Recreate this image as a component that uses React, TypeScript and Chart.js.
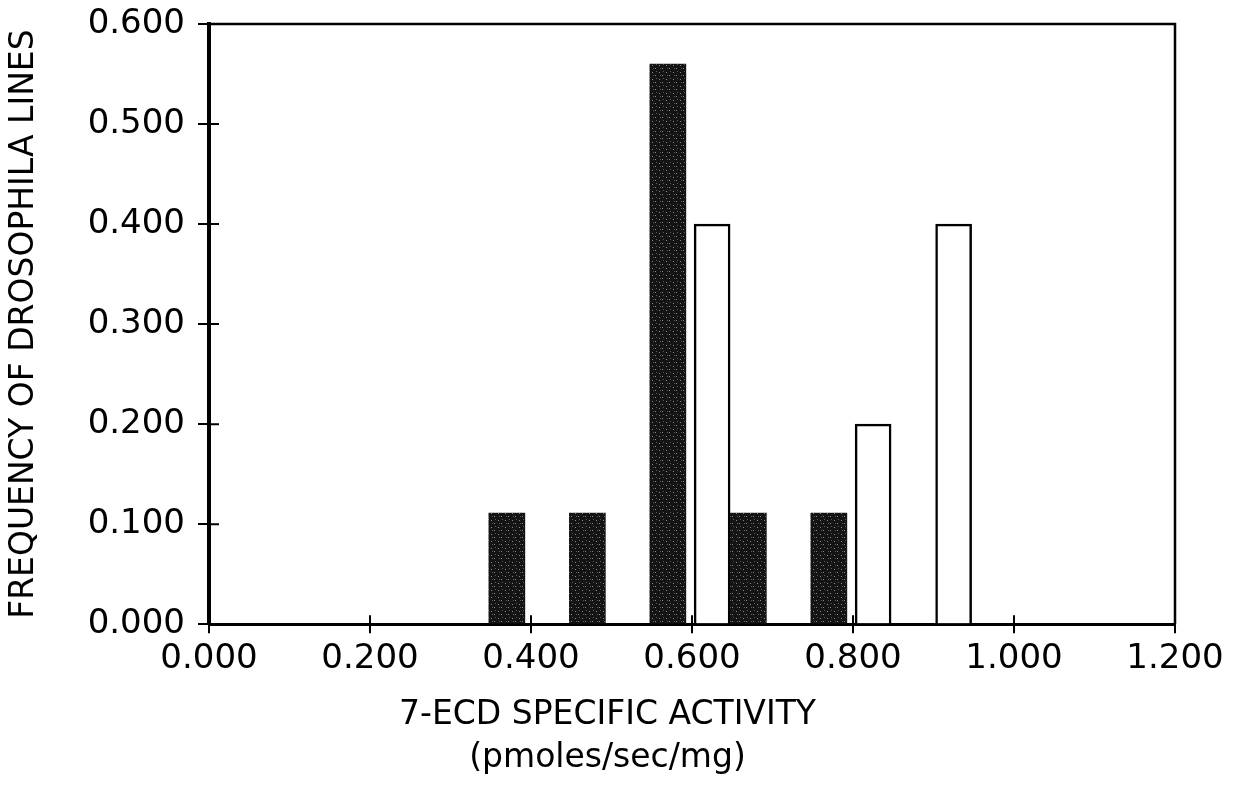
import React, { useEffect, useRef } from "react";
import { Chart, registerables } from "chart.js";

Chart.register(...registerables);

const darkX = [0.37, 0.47, 0.57, 0.67, 0.77];
const darkY = [0.111, 0.111, 0.56, 0.111, 0.111];
const whiteX = [0.625, 0.825, 0.925];
const whiteY = [0.4, 0.2, 0.4];
const xTitle = ["7-ECD SPECIFIC ACTIVITY", "(pmoles/sec/mg)"];
const yTitle = "FREQUENCY OF DROSOPHILA LINES";

function makeStipple(): CanvasPattern | string {
  const c = document.createElement("canvas");
  c.width = 7;
  c.height = 7;
  const g = c.getContext("2d");
  if (!g) return "#1a1a1a";
  g.fillStyle = "#141414";
  g.fillRect(0, 0, 7, 7);
  g.fillStyle = "#8a8a8a";
  g.fillRect(1, 2, 1, 1);
  g.fillRect(4, 5, 1, 1);
  g.fillStyle = "#5a5a5a";
  g.fillRect(5, 1, 1, 1);
  g.fillRect(2, 5, 1, 1);
  const p = g.createPattern(c, "repeat");
  return p || "#1a1a1a";
}

const frameAndTicks = {
  id: "frameAndTicks",
  afterDraw(chart: any) {
    const { ctx, chartArea } = chart;
    const xs = chart.scales.x;
    const ys = chart.scales.y;
    ctx.save();
    ctx.strokeStyle = "#000";
    ctx.lineWidth = 2.5;
    ctx.beginPath();
    ctx.moveTo(chartArea.left, chartArea.top);
    ctx.lineTo(chartArea.right, chartArea.top);
    ctx.lineTo(chartArea.right, chartArea.bottom);
    ctx.stroke();
    ctx.lineWidth = 2;
    ctx.beginPath();
    xs.ticks.forEach((t: any) => {
      const px = xs.getPixelForValue(t.value);
      ctx.moveTo(px, chartArea.bottom);
      ctx.lineTo(px, chartArea.bottom - 9);
    });
    ys.ticks.forEach((t: any) => {
      const py = ys.getPixelForValue(t.value);
      ctx.moveTo(chartArea.left, py);
      ctx.lineTo(chartArea.left + 10, py);
    });
    ctx.stroke();
    ctx.restore();
  },
};

export default function App() {
  const ref = useRef<HTMLCanvasElement | null>(null);

  useEffect(() => {
    if (!ref.current) return;
    Chart.defaults.font.family = "'DejaVu Sans', sans-serif";
    Chart.defaults.color = "#000";
    const stipple = makeStipple();
    const chart = new Chart(ref.current, {
      type: "bar",
      data: {
        datasets: [
          {
            label: "dark",
            data: darkX.map((x, i) => ({ x, y: darkY[i] })),
            backgroundColor: stipple as any,
            borderWidth: 0,
            barThickness: 36,
            grouped: false,
          },
          {
            label: "white",
            data: whiteX.map((x, i) => ({ x, y: whiteY[i] })),
            backgroundColor: "#ffffff",
            borderColor: "#000000",
            borderWidth: 2.5,
            barThickness: 36,
            grouped: false,
          },
        ] as any,
      },
      options: {
        animation: false,
        responsive: true,
        maintainAspectRatio: false,
        layout: { padding: { left: 40, right: 63, top: 24, bottom: 9 } },
        plugins: {
          legend: { display: false },
          tooltip: { enabled: false },
          title: {
            display: true,
            position: "bottom",
            text: xTitle,
            font: { size: 33, weight: "normal", lineHeight: 1.3 },
            color: "#000",
            padding: { top: 0, bottom: 0 },
          },
        },
        scales: {
          x: {
            type: "linear",
            min: 0,
            max: 1.2,
            offset: false,
            afterFit: (s: any) => {
              s.height = 70;
              s.paddingTop = 0;
            },
            ticks: {
              stepSize: 0.2,
              padding: 6,
              font: { size: 34 },
              color: "#000",
              maxRotation: 0,
              autoSkip: false,
              callback: (v: any) => Number(v).toFixed(3),
            },
            grid: {
              offset: false,
              drawOnChartArea: false,
              drawTicks: true,
              tickLength: 9,
              color: "#000",
              lineWidth: 2,
            },
            border: { display: true, color: "#000", width: 3 },
          },
          y: {
            type: "linear",
            min: 0,
            max: 0.6,
            afterFit: (s: any) => {
              s.width = 169;
              s.paddingTop = 0;
              s.paddingBottom = 0;
            },
            ticks: {
              stepSize: 0.1,
              padding: 13,
              font: { size: 34 },
              color: "#000",
              callback: (v: any) => Number(v).toFixed(3),
            },
            grid: {
              offset: false,
              drawOnChartArea: false,
              drawTicks: true,
              tickLength: 11,
              color: "#000",
              lineWidth: 2,
            },
            border: { display: true, color: "#000", width: 4 },
            title: {
              display: true,
              text: yTitle,
              font: { size: 33, weight: "normal" },
              color: "#000",
              padding: { top: -35, bottom: 0 },
            },
          },
        },
      },
      plugins: [frameAndTicks],
    });
    return () => chart.destroy();
  }, []);

  return (
    <div style={{ position: "fixed", left: 0, top: 0, width: 1238, height: 789, background: "#fff" }}>
      <canvas ref={ref} />
    </div>
  );
}
